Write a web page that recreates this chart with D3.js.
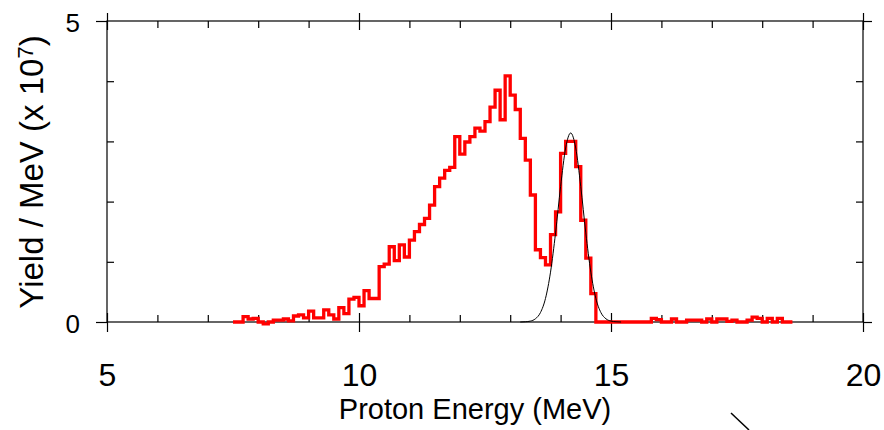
<!DOCTYPE html>
<html>
<head>
<meta charset="utf-8">
<script src="https://cdn.jsdelivr.net/npm/d3@7"></script>
<style>
  body { margin: 0; background: #fff; }
  svg { display: block; font-family: "Liberation Sans", Arial, sans-serif; }
</style>
</head>
<body>
<div class="chart"></div>
<script>
// measured proton spectrum, 0.1 MeV bins from 7.5 MeV (yield / MeV in units of 1e7)
var binStart = 7.5;
var binWidth = 0.1;
var yieldRed = [
  0.00, 0.00, 0.09, 0.05, 0.06, 0.00, -0.03, 0.00, 0.03, 0.03,
  0.05, 0.02, 0.10, 0.12, 0.07, 0.18, 0.07, 0.07, 0.20, 0.12,
  0.05, 0.24, 0.14, 0.38, 0.41, 0.27, 0.52, 0.39, 0.39, 0.92,
  0.96, 1.25, 1.02, 1.28, 1.08, 1.36, 1.50, 1.62, 1.72, 1.94,
  2.25, 2.39, 2.52, 2.57, 3.08, 2.79, 2.99, 3.08, 3.22, 3.17,
  3.33, 3.57, 3.85, 3.36, 4.09, 3.77, 3.53, 3.05, 2.69, 2.11,
  1.20, 1.07, 0.95, 1.45, 1.83, 2.80, 3.00, 3.00, 2.58, 1.69,
  1.06, 0.47, 0.00, 0.00, 0.00, 0.00, 0.00, 0.00, 0.00, 0.00,
  0.00, 0.00, 0.00, 0.06, 0.04, 0.00, 0.00, 0.05, 0.00, 0.00,
  0.03, 0.03, 0.03, 0.00, 0.05, 0.00, 0.05, 0.05, 0.01, 0.03,
  0.00, 0.00, 0.03, 0.08, 0.06, 0.00, 0.06, 0.00, 0.06, 0.00,
  0.00
];

// fitted peak (thin black line)
var fitEnergy = [13.2, 13.3, 13.4, 13.5, 13.6, 13.7, 13.8, 13.9, 14.0, 14.1, 14.2,
                 14.3, 14.4, 14.5, 14.6, 14.7, 14.8, 14.9, 15.0, 15.1, 15.2];
var fitYield = [0.0, 0.004, 0.015, 0.053, 0.156, 0.391, 0.828, 1.48, 2.25, 2.89, 3.14,
                2.89, 2.25, 1.48, 0.828, 0.391, 0.156, 0.053, 0.015, 0.004, 0.0];

var xMajor = [5, 10, 15, 20];
var xMinor = [6, 7, 8, 9, 11, 12, 13, 14, 16, 17, 18, 19];
var yMajor = [0, 5];
var yMinor = [1, 2, 3, 4];

var svgWidth = 884;
var svgHeight = 430;
var margin = { top: 21, right: 21, bottom: 108, left: 107 };
var width = svgWidth - margin.left - margin.right;
var height = svgHeight - margin.top - margin.bottom;

var svg = d3.select(".chart")
  .append("svg")
  .attr("width", svgWidth)
  .attr("height", svgHeight);

var chartGroup = svg.append("g")
  .attr("transform", `translate(${margin.left}, ${margin.top})`);

var xScale = d3.scaleLinear().domain([5, 20]).range([0, width]);
var yScale = d3.scaleLinear().domain([0, 5]).range([height, 0]);

// helper to strip domain paths from tick-only axes
function ticksOnly(g) {
  g.select(".domain").remove();
  g.selectAll("line").attr("stroke", "#000").attr("stroke-width", 1.2);
}

// frame
chartGroup.append("rect")
  .attr("width", width)
  .attr("height", height)
  .attr("fill", "none")
  .attr("stroke", "#000")
  .attr("stroke-width", 1.2);

// bottom: major ticks out (with labels), all ticks in
chartGroup.append("g")
  .attr("transform", `translate(0, ${height})`)
  .call(d3.axisBottom(xScale).tickValues(xMajor).tickSize(10).tickFormat(d3.format("d")))
  .call(ticksOnly)
  .call(g => g.selectAll("text")
    .attr("y", 64)
    .attr("dy", 0)
    .attr("fill", "#000")
    .style("font-size", "32px"));

chartGroup.append("g")
  .attr("transform", `translate(0, ${height})`)
  .call(d3.axisTop(xScale).tickValues(xMinor).tickSize(7).tickFormat(""))
  .call(ticksOnly);

chartGroup.append("g")
  .attr("transform", `translate(0, ${height})`)
  .call(d3.axisTop(xScale).tickValues(xMajor).tickSize(9).tickFormat(""))
  .call(ticksOnly);

// top
chartGroup.append("g")
  .call(d3.axisBottom(xScale).tickValues(xMinor).tickSize(7).tickFormat(""))
  .call(ticksOnly);

chartGroup.append("g")
  .call(d3.axisBottom(xScale).tickValues(xMajor).tickSize(9).tickFormat(""))
  .call(ticksOnly);

chartGroup.append("g")
  .call(d3.axisTop(xScale).tickValues(xMajor).tickSize(8).tickFormat(""))
  .call(ticksOnly);

// left: majors out with labels, minors in
chartGroup.append("g")
  .call(d3.axisLeft(yScale).tickValues(yMajor).tickSize(11).tickPadding(16).tickFormat(d3.format("d")))
  .call(ticksOnly)
  .call(g => g.selectAll("text")
    .attr("dy", "0.42em")
    .attr("fill", "#000")
    .style("font-size", "26px"));

chartGroup.append("g")
  .call(d3.axisRight(yScale).tickValues(yMinor).tickSize(7).tickFormat(""))
  .call(ticksOnly);

// right
chartGroup.append("g")
  .attr("transform", `translate(${width}, 0)`)
  .call(d3.axisLeft(yScale).tickValues(yMinor).tickSize(7).tickFormat(""))
  .call(ticksOnly);

chartGroup.append("g")
  .attr("transform", `translate(${width}, 0)`)
  .call(d3.axisRight(yScale).tickValues(yMajor).tickSize(9).tickFormat(""))
  .call(ticksOnly);

// histogram as a step line
var histPoints = yieldRed.map((v, i) => [binStart + i * binWidth, v]);
histPoints.push([binStart + yieldRed.length * binWidth, yieldRed[yieldRed.length - 1]]);

var stepLine = d3.line()
  .x(d => xScale(d[0]))
  .y(d => yScale(d[1]))
  .curve(d3.curveStepAfter);

chartGroup.append("path")
  .datum(histPoints)
  .attr("d", stepLine)
  .attr("fill", "none")
  .attr("stroke", "#ff0000")
  .attr("stroke-width", 3.3)
  .attr("stroke-linejoin", "miter");

// fit curve
var fitLine = d3.line()
  .x((d, i) => xScale(fitEnergy[i]))
  .y(d => yScale(d))
  .curve(d3.curveMonotoneX);

chartGroup.append("path")
  .datum(fitYield)
  .attr("d", fitLine)
  .attr("fill", "none")
  .attr("stroke", "#000")
  .attr("stroke-width", 1);

// axis titles
svg.append("text")
  .attr("x", 475)
  .attr("y", 419)
  .attr("text-anchor", "middle")
  .style("font-size", "29px")
  .text("Proton Energy (MeV)");

var yTitle = svg.append("text")
  .attr("transform", "translate(43, 172) rotate(-90)")
  .attr("text-anchor", "middle")
  .style("font-size", "33px");
yTitle.append("tspan").text("Yield / MeV (x 10");
yTitle.append("tspan").attr("dy", "-0.45em").style("font-size", "22px").text("7");
yTitle.append("tspan").attr("dy", "0.3em").text(")");

// stray stroke at the bottom edge of the source figure
svg.append("line")
  .attr("x1", 731).attr("y1", 413)
  .attr("x2", 749).attr("y2", 430)
  .attr("stroke", "#000")
  .attr("stroke-width", 1.5);
</script>
</body>
</html>
